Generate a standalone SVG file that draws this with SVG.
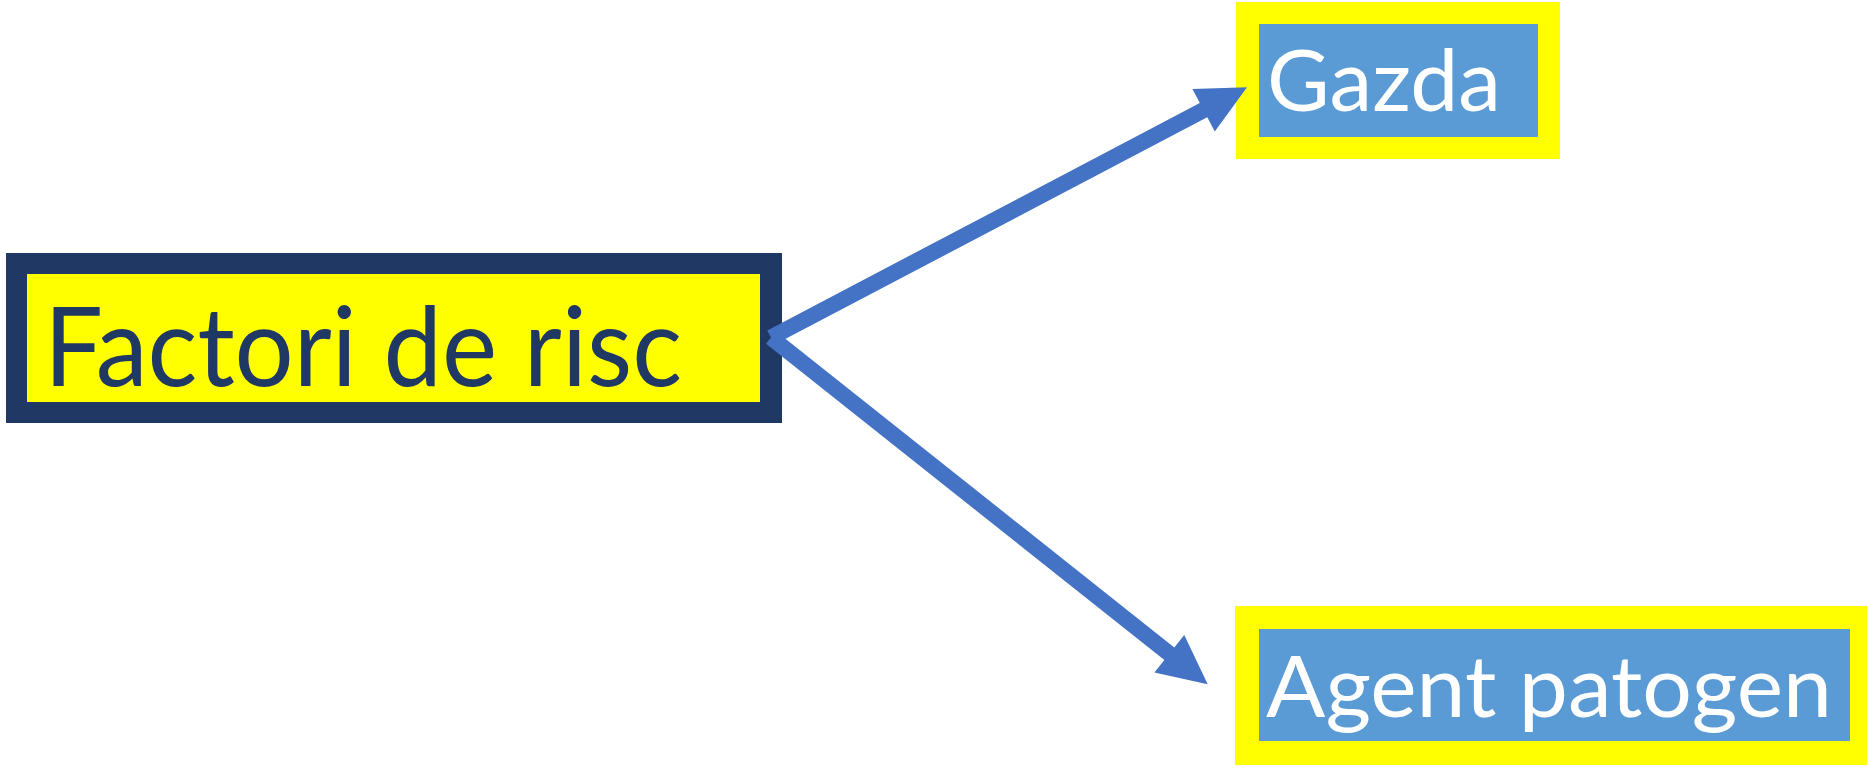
<svg xmlns="http://www.w3.org/2000/svg" width="1867" height="768" viewBox="0 0 1867 768">
  <style>
    .frame-dark { fill: #203864; }
    .fill-yellow { fill: #FFFF00; }
    .fill-blue { fill: #5B9BD5; }
    .lbl { font-family: Lato, "Open Sans", "Liberation Sans", sans-serif; }
    .lbl-dark { fill: #203864; font-size: 110px; }
    .lbl-white { fill: #FFFFFF; font-size: 85px; }
    .conn { stroke: #4472C4; stroke-width: 16; stroke-linecap: butt; fill: none; }
  </style>
  <defs>
    <marker id="head" markerUnits="userSpaceOnUse" viewBox="-2 -26 54 52" markerWidth="54" markerHeight="52" refX="2" refY="0" orient="auto" overflow="visible">
      <path d="M0,-24 L49,0 L0,24 Z" fill="#4472C4"/>
    </marker>
  </defs>
  <rect width="1867" height="768" fill="#FFFFFF"/>

  <g id="node-factori">
    <rect class="frame-dark" x="6" y="253" width="776" height="170"/>
    <rect class="fill-yellow" x="27" y="274" width="733" height="128"/>
    <text class="lbl lbl-dark" x="44" y="386" textLength="638" lengthAdjust="spacingAndGlyphs">Factori de risc</text>
  </g>

  <g id="node-gazda">
    <rect class="fill-yellow" x="1236" y="2" width="324" height="157"/>
    <rect class="fill-blue" x="1259" y="24" width="279" height="113"/>
    <text class="lbl lbl-white" x="1267" y="111" textLength="234" lengthAdjust="spacingAndGlyphs">Gazda</text>
  </g>

  <g id="node-agent">
    <rect class="fill-yellow" x="1235" y="606" width="632" height="159"/>
    <rect class="fill-blue" x="1259" y="629" width="591" height="112"/>
    <text class="lbl lbl-white" x="1266" y="717" textLength="566" lengthAdjust="spacingAndGlyphs">Agent patogen</text>
  </g>

  <g id="connectors">
    <line class="conn" x1="771" y1="337.5" x2="1205.4" y2="109.2" marker-end="url(#head)"/>
    <line class="conn" x1="771" y1="337.5" x2="1170.9" y2="655.0" marker-end="url(#head)"/>
  </g>
</svg>
